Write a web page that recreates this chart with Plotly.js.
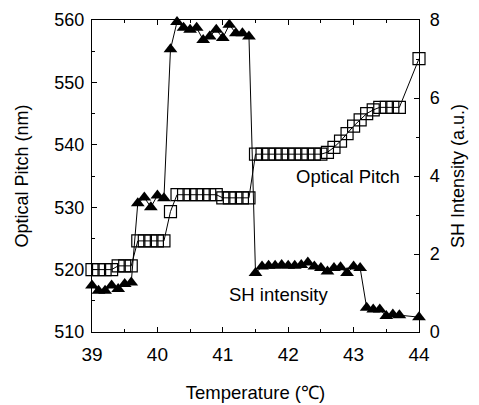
<!DOCTYPE html>
<html>
<head>
<meta charset="utf-8">
<script src="https://cdn.plot.ly/plotly-3.0.1.min.js"></script>
<style>html,body{margin:0;padding:0;background:#fff;}#chart{width:479px;height:405px;}</style>
</head>
<body>
<div id="chart"></div>
<script>
// Optical pitch (left axis, nm) – open squares
const pitchTemp = [39.0,39.1,39.2,39.3, 39.4,39.5,39.6, 39.7,39.8,39.9,40.0,40.1, 40.2,
  40.3,40.4,40.5,40.6,40.7,40.8,40.9, 41.0,41.1,41.2,41.3,41.4,
  41.5,41.6,41.7,41.8,41.9,42.0,42.1,42.2,42.3,42.4,42.5,
  42.6,42.7,42.8,42.9,43.0,43.1,43.2,43.3, 43.4,43.5,43.6,43.7, 44.0];
const pitchNm = [520,520,520,520, 520.6,520.6,520.6, 524.6,524.6,524.6,524.6,524.6, 529.3,
  532,532,532,532,532,532,532, 531.5,531.5,531.5,531.5,531.5,
  538.5,538.5,538.5,538.5,538.5,538.5,538.5,538.5,538.5,538.5,538.5,
  538.8,539.6,540.6,541.8,543,544,545,545.6, 546,546,546,546, 553.8];

// SH intensity (right axis, a.u.) – filled triangles
const shTemp = [39.0,39.1,39.2,39.3,39.4,39.5,39.6,
  39.7,39.8,39.9,40.0,40.1, 40.2,
  40.3,40.4,40.5,40.6,40.7,40.8,40.9,41.0,41.1,41.2,41.3,41.4,
  41.5,41.6,41.7,41.8,41.9,42.0,42.1,42.2,42.3,42.4,42.5,42.6,42.7,42.8,42.9,43.0,43.1,
  43.2,43.3,43.4,43.5,43.6,43.7, 44.0];
const shInt = [1.19,1.06,1.06,1.19,1.10,1.23,1.27,
  3.3,3.45,3.2,3.5,3.43, 7.25,
  7.95,7.8,7.75,7.8,7.49,7.58,7.75,7.54,7.88,7.66,7.66,7.58,
  1.51,1.68,1.70,1.70,1.72,1.70,1.70,1.72,1.78,1.68,1.64,1.55,1.64,1.66,1.51,1.68,1.64,
  0.62,0.58,0.58,0.41,0.45,0.43, 0.38];

const xTicks = [39,40,41,42,43,44];
const yTicks = [510,520,530,540,550,560];
const y2Ticks = [0,2,4,6,8];

const font = 'Liberation Sans, Arial, sans-serif';

const traces = [
  {x: pitchTemp, y: pitchNm, yaxis: 'y', type: 'scatter', mode: 'lines+markers',
   line: {color: '#000', width: 1},
   marker: {symbol: 'square-open', size: 12, color: '#000', line: {width: 1.2, color: '#000'}},
   cliponaxis: false, showlegend: false},
  {x: shTemp, y: shInt, yaxis: 'y2', type: 'scatter', mode: 'lines+markers',
   line: {color: '#000', width: 1},
   marker: {symbol: 'triangle-up', size: 12, color: '#000'},
   cliponaxis: false, showlegend: false}
];

const layout = {
  width: 479, height: 405,
  margin: {l: 92, r: 60, t: 20, b: 73},
  paper_bgcolor: '#fff', plot_bgcolor: '#fff',
  font: {family: font, color: '#000', size: 18},
  xaxis: {
    range: [39, 44], tickvals: xTicks, ticktext: xTicks.map(String),
    ticks: 'inside', ticklen: 5, tickwidth: 1, tickcolor: '#000',
    minor: {dtick: 0.5, ticks: 'inside', ticklen: 3, tickcolor: '#000'},
    showline: true, linecolor: '#000', linewidth: 1.2, mirror: 'ticks',
    showgrid: false, zeroline: false,
    tickfont: {size: 19, family: font}, ticklabelstandoff: 5,
    title: {text: 'Temperature (℃)', font: {size: 18.5, family: font}, standoff: 22}
  },
  yaxis: {
    range: [510, 560], tickvals: yTicks, ticktext: yTicks.map(String),
    ticks: 'inside', ticklen: 5, tickwidth: 1, tickcolor: '#000',
    minor: {dtick: 5, ticks: 'inside', ticklen: 3, tickcolor: '#000'},
    showline: true, linecolor: '#000', linewidth: 1.2,
    showgrid: false, zeroline: false,
    tickfont: {size: 18, family: font}, ticklabelstandoff: 3,
    title: {text: 'Optical Pitch (nm)', font: {size: 18, family: font}, standoff: 20}
  },
  yaxis2: {
    range: [0, 8], overlaying: 'y', side: 'right',
    tickvals: y2Ticks, ticktext: y2Ticks.map(String),
    ticks: 'inside', ticklen: 5, tickwidth: 1, tickcolor: '#000',
    minor: {dtick: 1, ticks: 'inside', ticklen: 3, tickcolor: '#000'},
    showline: true, linecolor: '#000', linewidth: 1.2,
    showgrid: false, zeroline: false,
    tickfont: {size: 18, family: font}, ticklabelstandoff: 6,
    title: {text: 'SH Intensity (a.u.)', font: {size: 18, family: font}, standoff: 12}
  },
  annotations: [
    {x: 42.92, y: 534.9, xref: 'x', yref: 'y', text: 'Optical Pitch', showarrow: false,
     font: {size: 18.5, family: font}},
    {x: 41.85, y: 0.97, xref: 'x', yref: 'y2', text: 'SH intensity', showarrow: false,
     font: {size: 18.5, family: font}}
  ]
};

Plotly.newPlot('chart', traces, layout, {displayModeBar: false, staticPlot: true});
</script>
</body>
</html>
